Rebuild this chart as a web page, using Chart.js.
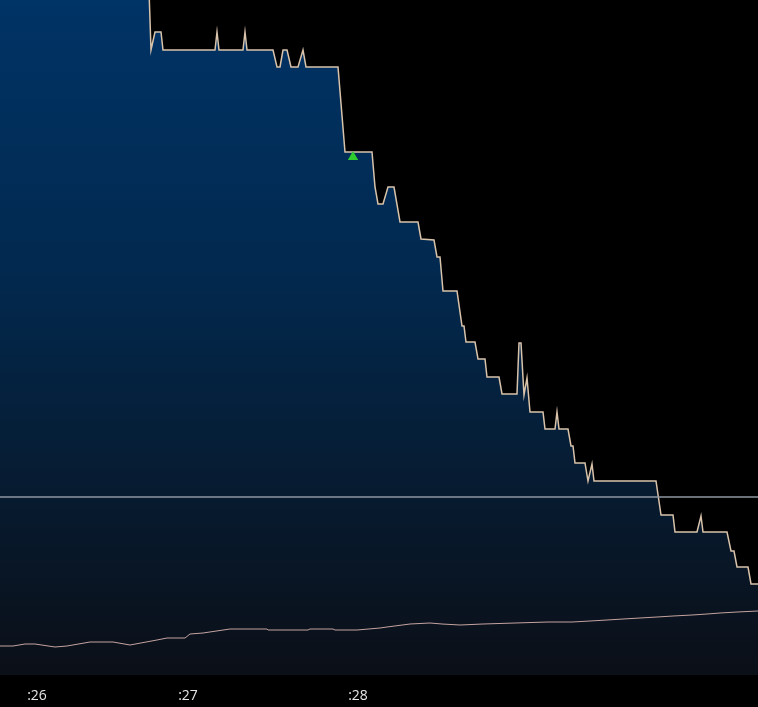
<!DOCTYPE html>
<html>
<head>
<meta charset="utf-8">
<script src="https://cdn.jsdelivr.net/npm/chart.js@4/dist/chart.umd.min.js"></script>
<style>
  html, body { margin: 0; padding: 0; background: #000; }
  canvas { display: block; }
</style>
</head>
<body>
<canvas id="tickChart" width="758" height="707"></canvas>
<script>
// price trace (x = time position, y = price)
const priceX = [0,148,151,155,161,163,215,217,219,243,245,247,273,277,280,283,287,291,298,303,306,338,345,
  372,375,378,383,388,394,400,418,421,434,437,440,443,457,462,464,466,475,478,485,487,499,502,517,519,521,524,527,530,
  543,545,555,557,559,568,571,573,575,585,588,592,594,656,661,673,675,697,701,703,727,731,734,737,748,751,758];
const priceY = [715,715,625,643,643,625,625,643,625,625,643,625,625,608,608,625,625,608,608,625,608,608,523,
  523,488,471,471,488,488,453,453,436,435,418,418,384,384,349,349,333,333,316,316,298,298,281,281,332,332,280,297,263,
  263,246,246,263,246,246,229,229,212,212,194,211,194,194,160,160,143,143,159,143,143,124,124,108,108,91,91];

// lower average line
const avgX = [0,13,25,35,55,67,90,113,130,157,167,185,190,203,230,267,268,308,310,333,335,357,380,387,410,430,442,
  460,483,515,548,572,590,607,623,640,657,673,692,707,720,737,758];
const avgY = [29,29,31,31,28,29,33,33,30,35,37,37,41,42,46,46,45,45,46,46,45,45,47,48,51,52,51,
  50,51,52,53,53,54,55,56,57,58,59,60,61,62,63,64];

// reference level and fill marker
const refLevel = 178;
const markerX = [353];
const markerY = [518];

// time ticks
const tickPos = [37, 188, 358];
const tickLabels = [':26', ':27', ':28'];

const toPoints = (xs, ys) => xs.map((x, i) => ({ x: x, y: ys[i] }));

const bgPlugin = {
  id: 'bg',
  beforeDraw(chart) {
    const c = chart.ctx;
    c.save();
    c.fillStyle = '#000';
    c.fillRect(0, 0, chart.width, chart.height);
    c.restore();
  }
};

const ctx = document.getElementById('tickChart').getContext('2d');

new Chart(ctx, {
  type: 'line',
  data: {
    datasets: [
      {
        label: 'Marker',
        data: toPoints(markerX, markerY),
        showLine: false,
        pointStyle: 'triangle',
        pointRadius: 6,
        pointBackgroundColor: '#2ecc2e',
        pointBorderColor: '#2ecc2e',
        pointBorderWidth: 0
      },
      {
        label: 'Level',
        data: [{ x: 0, y: refLevel }, { x: 758, y: refLevel }],
        borderColor: '#8e97a2',
        borderWidth: 1.5,
        pointRadius: 0,
        fill: false
      },
      {
        label: 'Average',
        data: toPoints(avgX, avgY),
        borderColor: '#c4a3a0',
        borderWidth: 1,
        pointRadius: 0,
        tension: 0,
        fill: false
      },
      {
        label: 'Price',
        data: toPoints(priceX, priceY),
        borderColor: '#d9c3ab',
        borderWidth: 1.5,
        pointRadius: 0,
        tension: 0,
        fill: 'origin',
        backgroundColor: (context) => {
          const area = context.chart.chartArea;
          if (!area) return '#03294f';
          const g = context.chart.ctx.createLinearGradient(0, area.top, 0, area.bottom);
          g.addColorStop(0, '#003366');
          g.addColorStop(0.4, '#02294f');
          g.addColorStop(0.75, '#071a2e');
          g.addColorStop(1, '#0b0f17');
          return g;
        }
      }
    ]
  },
  options: {
    responsive: false,
    animation: false,
    layout: { padding: 0, autoPadding: false },
    plugins: {
      legend: { display: false },
      tooltip: { enabled: false }
    },
    scales: {
      x: {
        type: 'linear',
        min: 0,
        max: 758,
        grid: { display: false, drawTicks: false },
        border: { display: false },
        afterBuildTicks: (scale) => {
          scale.ticks = tickPos.map(v => ({ value: v }));
        },
        afterFit: (scale) => { scale.height = 32; },
        ticks: {
          autoSkip: false,
          maxRotation: 0,
          padding: 13,
          color: '#e6e6e6',
          font: { family: 'Open Sans', size: 14 },
          callback: (value) => {
            const i = tickPos.indexOf(value);
            return i >= 0 ? tickLabels[i] : '';
          }
        }
      },
      y: {
        display: false,
        min: 0,
        max: 675
      }
    }
  },
  plugins: [bgPlugin]
});
</script>
</body>
</html>
